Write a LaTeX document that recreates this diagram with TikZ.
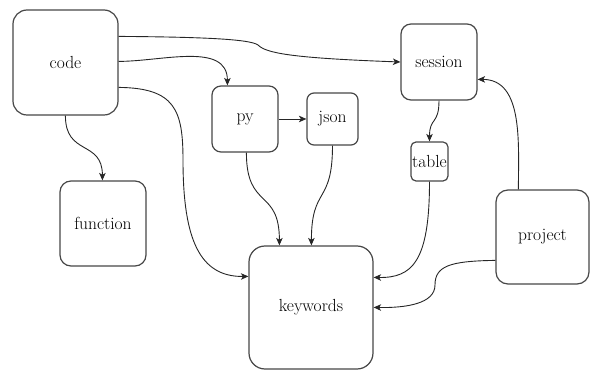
\documentclass[tikz,border=0pt]{standalone}
\usepackage{fontspec}
\usetikzlibrary{arrows.meta,calc}
\tikzset{
  box/.style={draw=black!72, line width=1.2pt, fill=white, inner sep=0pt, align=center,
    font=\rmfamily\fontsize{17.5}{20}\selectfont},
  edge/.style={draw=black!85, line width=0.9pt, -{Stealth[length=7.5pt,width=6.5pt,inset=2pt]}}
}
\begin{document}
\begin{tikzpicture}[x=1pt,y=-1pt]
\useasboundingbox (0,0) rectangle (590,371);
\node[box, minimum width=105pt, minimum height=105pt, rounded corners=14pt] (code) at (65.5,62.5) {code};
\node[box, minimum width=66pt, minimum height=66pt, rounded corners=9pt] (py) at (245,119) {py};
\node[box, minimum width=76pt, minimum height=76pt, rounded corners=10pt] (session) at (439,62) {session};
\node[box, minimum width=51pt, minimum height=52pt, rounded corners=7pt] (json) at (332.5,119) {json};
\node[box, minimum width=37pt, minimum height=39pt, rounded corners=5pt] (table) at (429.5,161.5) {table};
\node[box, minimum width=86pt, minimum height=85pt, rounded corners=11pt] (function) at (103,223.5) {function};
\node[box, minimum width=124pt, minimum height=123pt, rounded corners=16pt] (keywords) at (311,307.5) {keywords};
\node[box, minimum width=93pt, minimum height=94pt, rounded corners=12pt] (project) at (542.5,237) {project};

\draw[edge] ($(code.north east)+(0,27)$) .. controls (200,37) and (250,39) .. (258,45)
  .. controls (266,53) and (290,58) .. (session.west);
\draw[edge] ($(code.north east)+(0,52)$) to[out=0,in=90] ($(py.north west)+(16,0)$);
\draw[edge] ($(code.north east)+(0,78)$) .. controls (175,88) and (183,110) .. (183,160)
  .. controls (183,240) and (200,277) .. ($(keywords.north west)+(0,31)$);
\draw[edge] ($(code.south west)+(53,0)$) to[out=-90,in=90,looseness=1.4] ($(function.north west)+(43,0)$);
\draw[edge] (py.east) -- (json.west);
\draw[edge] ($(py.south west)+(35,0)$) to[out=-90,in=90,looseness=1.5] ($(keywords.north west)+(31,0)$);
\draw[edge] (json.south) to[out=-90,in=90,looseness=1.5] ($(keywords.north west)+(63,0)$);
\draw[edge] (session.south) to[out=-90,in=90,looseness=1.5] (table.north);
\draw[edge] (table.south) .. controls (429.5,262) and (412,278) .. ($(keywords.north east)+(0,32)$);
\draw[edge] ($(project.north west)+(0,71)$) .. controls (450,261) and (435,266) .. (435,285)
  .. controls (435,304) and (405,308) .. ($(keywords.north east)+(0,62)$);
\draw[edge] ($(project.north west)+(23,0)$) to[out=90,in=0] ($(session.north east)+(0,56)$);
\end{tikzpicture}
\end{document}
